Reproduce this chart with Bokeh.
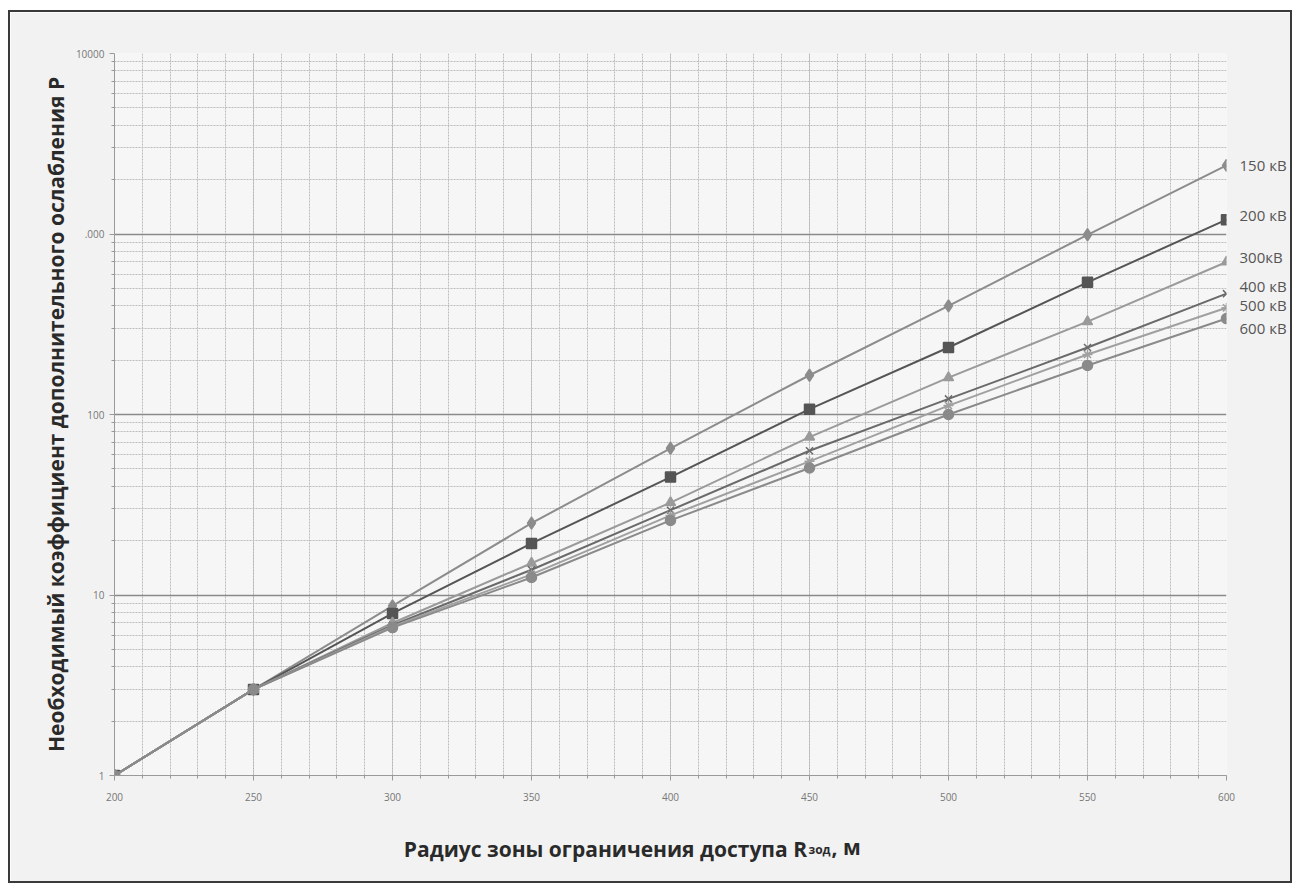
from bokeh.plotting import figure
from bokeh.models import FixedTicker, ColumnDataSource, LinearAxis, LogAxis
from bokeh.embed import file_html
from bokeh.resources import INLINE

x_vals = [200, 250, 300, 350, 400, 450, 500, 550, 600]
kv150 = [1, 3, 8.7, 25, 65, 165, 400, 990, 2400]
kv200 = [1, 3, 7.9, 19.3, 45, 107, 235, 540, 1200]
kv300 = [1, 3, 7.0, 15, 32.5, 75, 160, 327, 700]
kv400 = [1, 3, 6.8, 13.8, 29.5, 63, 122, 235, 467]
kv500 = [1, 3, 6.7, 13.0, 27.6, 55, 112, 215, 390]
kv600 = [1, 3, 6.6, 12.5, 25.9, 50.5, 100, 187, 340]
series_labels = ["150 кВ", "200 кВ", "300кВ", "400 кВ", "500 кВ", "600 кВ"]
y_tick_vals = [1, 10, 100, 1000, 10000]
y_tick_text = ["1", "10", "100", ".000", "10000"]
x_tick_vals = [200, 250, 300, 350, 400, 450, 500, 550, 600]
x_title_main = "Радиус зоны ограничения доступа R"
x_title_sub = "зод"
x_title_end = ", м"
y_title = "Необходимый коэффициент дополнительного ослабления Р"

series = [kv150, kv200, kv300, kv400, kv500, kv600]
colors = ["#8c8c8c", "#555555", "#9a9a9a", "#6a6a6a", "#a0a0a0", "#8a8a8a"]
markers = ["diamond", "square", "triangle", "x", "asterisk", "circle"]
label_dy_px = [0, 5, 5, 8, 3, -9]       # pixel nudges of the end labels
PX_PER_DECADE = 180.5
# horizontal centres (in x units) of the three pieces of the x-axis title
TITLE_MAIN_AT = 376.6
TITLE_SUB_AT = 453.6
TITLE_END_AT = 463.2

FONT = "Open Sans"
W, H = 1284, 873

p = figure(width=W, height=H, y_axis_type="log",
           x_range=(200, 600), y_range=(1, 10000),
           output_backend="svg", toolbar_location=None,
           min_border_left=104, min_border_right=68,
           min_border_top=41, min_border_bottom=110)
p.background_fill_color = "#f6f6f6"
p.border_fill_color = "#f2f2f2"
p.outline_line_color = None
p.styles = {"border": "2px solid #3a3a3a", "margin-left": "8px", "margin-top": "10px"}

minor_y = []
for d in [1, 10, 100, 1000]:
    minor_y += [d * k for k in range(2, 10)]
p.yaxis.ticker = FixedTicker(ticks=y_tick_vals, minor_ticks=minor_y)
p.yaxis.major_label_overrides = {v: t for v, t in zip(y_tick_vals, y_tick_text)}
p.xaxis.ticker = FixedTicker(ticks=x_tick_vals, minor_ticks=list(range(200, 601, 10)))

p.ygrid.grid_line_color = "#8a8a8a"
p.ygrid.grid_line_width = 1.3
p.ygrid.minor_grid_line_color = "#bcbcbc"
p.ygrid.minor_grid_line_dash = "2 1"
p.xgrid.grid_line_color = "#b4b4b4"
p.xgrid.grid_line_dash = "2 1"
p.xgrid.minor_grid_line_color = "#bcbcbc"
p.xgrid.minor_grid_line_dash = "2 1"

for ax in (p.xaxis, p.yaxis):
    ax.axis_line_color = "#9a9a9a"
    ax.major_tick_line_color = "#9a9a9a"
    ax.minor_tick_line_color = "#9a9a9a"
    ax.major_tick_in = 0
    ax.major_tick_out = 5
    ax.minor_tick_in = 0
    ax.minor_tick_out = 3
    ax.major_label_text_font = FONT
    ax.major_label_text_font_size = "10px"
    ax.major_label_text_color = "#777777"
    ax.axis_label_text_font = FONT
    ax.axis_label_text_font_style = "bold"
    ax.axis_label_text_font_size = "21px"
    ax.axis_label_text_color = "#2a2a2a"

p.yaxis.axis_label = y_title
p.yaxis.axis_label_standoff = 3
p.xaxis.major_label_standoff = 12


def text_axis(tick, text, size, standoff, style="bold", color="#2a2a2a"):
    ax = LinearAxis(ticker=FixedTicker(ticks=[tick], minor_ticks=[]),
                    major_label_overrides={tick: text})
    ax.axis_line_color = None
    ax.major_tick_line_color = None
    ax.minor_tick_line_color = None
    ax.major_tick_out = 0
    ax.major_tick_in = 0
    ax.major_label_standoff = standoff
    ax.major_label_text_font = FONT
    ax.major_label_text_font_size = size
    ax.major_label_text_font_style = style
    ax.major_label_text_color = color
    return ax


# x-axis title with a subscript, built from three label-only axes below the plot
p.add_layout(text_axis(TITLE_SUB_AT, x_title_sub, "12px", 37), "below")
p.add_layout(text_axis(TITLE_END_AT, x_title_end, "21px", -28), "below")
p.add_layout(text_axis(TITLE_MAIN_AT, x_title_main, "21px", -29), "below")

for vals, col, mk in zip(series, colors, markers):
    src = ColumnDataSource(dict(x=x_vals, y=vals))
    p.line("x", "y", source=src, line_color=col, line_width=2)
    p.scatter("x", "y", source=src, marker=mk, size=10 if mk != "diamond" else 12,
              fill_color=col, line_color=col, line_width=1.5)

# end-of-line labels, drawn as an extra right axis so they sit outside the plot area
end_pos = [s[-1] * 10 ** (dy / PX_PER_DECADE) for s, dy in zip(series, label_dy_px)]
rax = LogAxis(ticker=FixedTicker(ticks=end_pos, minor_ticks=[]),
              major_label_overrides={v: t for v, t in zip(end_pos, series_labels)})
rax.axis_line_color = None
rax.major_tick_line_color = None
rax.minor_tick_line_color = None
rax.major_tick_out = 0
rax.major_tick_in = 0
rax.major_label_standoff = 13
rax.major_label_text_font = FONT
rax.major_label_text_font_size = "15px"
rax.major_label_text_color = "#555555"
p.add_layout(rax, "right")

open("out.html", "w").write(file_html(p, INLINE))
